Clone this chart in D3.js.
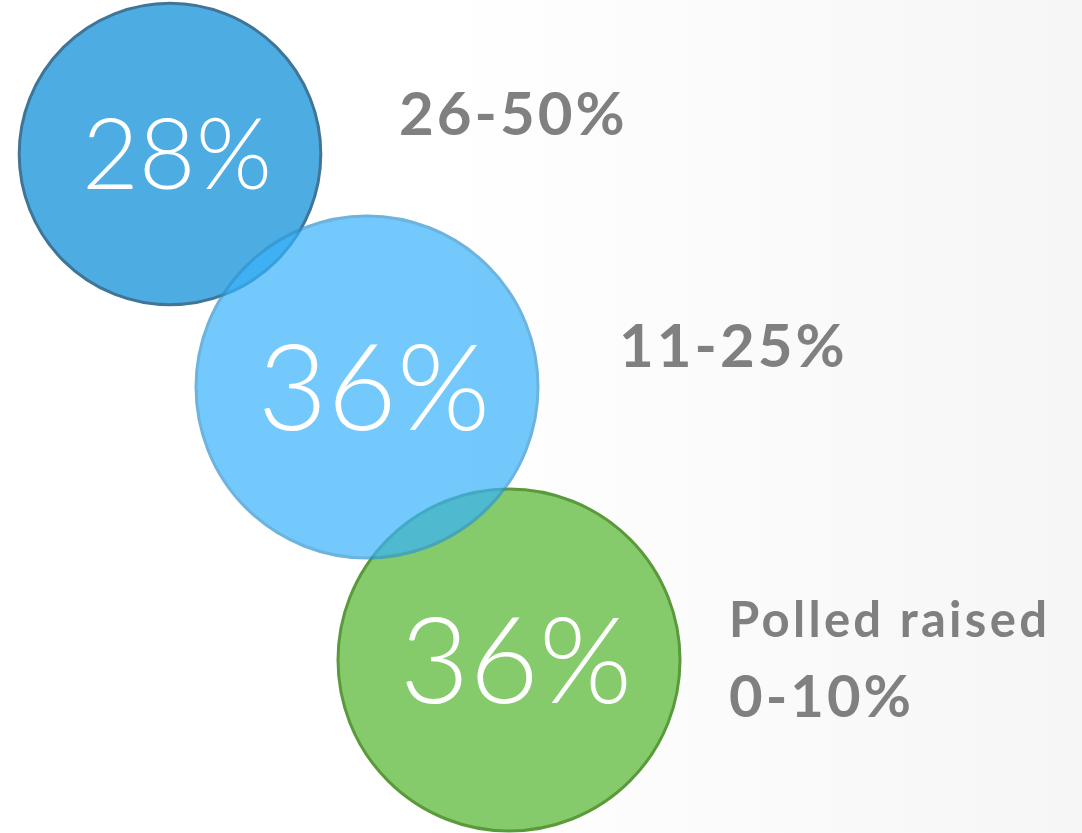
<!DOCTYPE html>
<html>
<head>
<meta charset="UTF-8">
<title>Polled raised</title>
<script src="https://d3js.org/d3.v7.min.js"></script>
<style>
  html, body { margin: 0; padding: 0; background: #fff; }
  svg { display: block; }
</style>
</head>
<body>
<svg width="1082" height="833"></svg>
<script>
// data
var categories = ["26-50%", "11-25%", "0-10%"];
var shares = [28, 36, 36];
var valueLabels = ["28%", "36%", "36%"];
var captions = ["", "", "Polled raised"];

// layout (per category)
var centerX = [170, 367, 509];
var centerY = [154, 387, 660];
var fills = ["#4dade3", "rgb(56,178,251)", "#86cb6b"];
var strokes = ["#3f7597", "#2f95d0", "#5a9a3b"];
var opac = [1, 0.7, 1];
var labelX = [399, 619, 729];
var labelY = [135, 367, 717];

var svg = d3.select("svg");

// faint paper shading on the right
var defs = svg.append("defs");
var grad = defs.append("linearGradient").attr("id", "bg").attr("x1", 0).attr("x2", 1);
grad.append("stop").attr("offset", "0.4").attr("stop-color", "#ffffff");
grad.append("stop").attr("offset", "1").attr("stop-color", "#f6f6f6");
svg.append("rect").attr("width", 1082).attr("height", 833).attr("fill", "url(#bg)");

var x = d3.scaleOrdinal().domain(categories).range(centerX);
var y = d3.scaleOrdinal().domain(categories).range(centerY);
var r = d3.scaleSqrt().domain([0, 36]).range([0, 171]);
var lx = d3.scaleOrdinal().domain(categories).range(labelX);
var ly = d3.scaleOrdinal().domain(categories).range(labelY);

var data = categories.map(function(c, i) {
  return {cat: c, value: shares[i], label: valueLabels[i], caption: captions[i],
          fill: fills[i], stroke: strokes[i], opacity: opac[i]};
});

// draw order: dark blue, green, then light blue on top
var order = [0, 2, 1];
var bubbles = svg.append("g")
  .selectAll("g")
  .data(order.map(function(i) { return data[i]; }))
  .enter().append("g");

bubbles.append("circle")
  .attr("cx", function(d) { return x(d.cat); })
  .attr("cy", function(d) { return y(d.cat); })
  .attr("r", function(d) { return r(d.value); })
  .attr("fill", function(d) { return d.fill; })
  .attr("stroke", function(d) { return d.stroke; })
  .attr("stroke-width", 3)
  .attr("opacity", function(d) { return d.opacity; });

svg.append("g")
  .selectAll("text")
  .data(data)
  .enter().append("text")
    .attr("x", function(d) { return x(d.cat) + 7; })
    .attr("y", function(d) { return y(d.cat); })
    .attr("dy", "0.36em")
    .attr("text-anchor", "middle")
    .attr("fill", "#fff")
    .attr("font-family", "Lato, 'Open Sans', sans-serif")
    .attr("font-weight", 300)
    .attr("font-size", function(d) { return d.value < 30 ? 98 : 120; })
    .text(function(d) { return d.label; });

var labels = svg.append("g")
  .attr("fill", "#808080")
  .attr("font-family", "Lato, sans-serif")
  .attr("font-weight", 700);

labels.selectAll("text.range")
  .data(data)
  .enter().append("text")
    .attr("class", "range")
    .attr("x", function(d) { return lx(d.cat); })
    .attr("y", function(d) { return ly(d.cat); })
    .attr("font-size", function(d) { return d.caption ? 58 : 60; })
    .attr("letter-spacing", 3)
    .text(function(d) { return d.cat; });

labels.selectAll("text.caption")
  .data(data.filter(function(d) { return d.caption; }))
  .enter().append("text")
    .attr("class", "caption")
    .attr("x", function(d) { return lx(d.cat); })
    .attr("y", function(d) { return ly(d.cat) - 80; })
    .attr("font-size", 49)
    .attr("letter-spacing", 3.3)
    .text(function(d) { return d.caption; });
</script>
</body>
</html>
